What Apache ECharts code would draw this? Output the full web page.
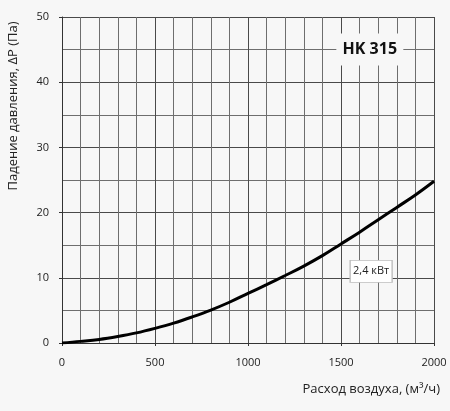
<!DOCTYPE html>
<html>
<head>
<meta charset="utf-8">
<script src="https://cdn.jsdelivr.net/npm/echarts@6/dist/echarts.min.js"></script>
<style>
  html, body { margin: 0; padding: 0; background: #f7f7f7; }
  #main { width: 450px; height: 411px; }
</style>
</head>
<body>
<div id="main"></div>
<script>
// airflow, m3/h
var flow = [0, 100, 200, 300, 400, 500, 600, 700, 800, 900, 1000,
            1100, 1200, 1300, 1400, 1500, 1600, 1700, 1800, 1900, 2000];
// pressure drop, Pa
var pressure = [0, 0.25, 0.55, 1.0, 1.55, 2.25, 3.05, 4.0, 5.05, 6.25, 7.6,
                8.95, 10.35, 11.8, 13.4, 15.2, 17.0, 18.9, 20.8, 22.7, 24.8];

var modelName = 'HK 315';
var powerLabel = '2,4 кВт';
var xTitle = 'Расход воздуха, (м³/ч)';
var yTitle = 'Падение давления, ΔP (Па)';

var font = '"Open Sans", "DejaVu Sans", sans-serif';

var points = [];
for (var i = 0; i < flow.length; i++) {
  points.push([flow[i], pressure[i]]);
}

var chart = echarts.init(document.getElementById('main'));

chart.setOption({
  backgroundColor: '#f7f7f7',
  animation: false,
  textStyle: { fontFamily: font },
  grid: { left: 62, right: 16, top: 17, bottom: 68 },
  xAxis: {
    type: 'value',
    min: 0, max: 2000, interval: 500,
    axisLine: { show: true, lineStyle: { color: '#333', width: 1 } },
    axisTick: { show: true, length: 3, lineStyle: { color: '#333' } },
    axisLabel: {
      color: '#222', fontSize: 11, margin: 14, fontFamily: font,
      formatter: function (v) { return String(v); }
    },
    splitLine: { show: true, lineStyle: { color: '#4a4a4a', width: 1 } },
    minorTick: { show: true, splitNumber: 5, length: 0 },
    minorSplitLine: { show: true, lineStyle: { color: '#6e6e6e', width: 1 } }
  },
  yAxis: {
    type: 'value',
    min: 0, max: 50, interval: 10,
    axisLine: { show: true, lineStyle: { color: '#333', width: 1 } },
    axisTick: { show: true, length: 3, lineStyle: { color: '#333' } },
    axisLabel: { color: '#222', fontSize: 11, margin: 13, fontFamily: font },
    splitLine: { show: true, lineStyle: { color: '#4a4a4a', width: 1 } },
    minorTick: { show: true, splitNumber: 2, length: 0 },
    minorSplitLine: { show: true, lineStyle: { color: '#6e6e6e', width: 1 } }
  },
  series: [{
    type: 'line',
    data: points,
    smooth: 0.4,
    showSymbol: false,
    lineStyle: { color: '#000', width: 3 },
    markPoint: {
      silent: true,
      data: [
        {
          coord: [1655, 45],
          symbol: 'rect',
          symbolSize: [67, 32],
          itemStyle: { color: '#f7f7f7' },
          label: {
            show: true, position: 'inside', formatter: modelName,
            color: '#111', fontSize: 16, fontWeight: 'bold', fontFamily: font
          }
        },
        {
          coord: [1662, 11],
          symbol: 'rect',
          symbolSize: [42, 22],
          itemStyle: { color: '#fff', borderColor: '#bdbdbd', borderWidth: 1 },
          label: {
            show: true, position: 'inside', formatter: powerLabel,
            color: '#222', fontSize: 11, fontFamily: font
          }
        }
      ]
    }
  }],
  graphic: [
    {
      type: 'text',
      right: 10, top: 383,
      style: { text: xTitle, fill: '#222', font: '13px ' + font }
    },
    {
      type: 'text',
      rotation: Math.PI / 2,
      x: 7, y: 106,
      style: {
        text: yTitle, fill: '#222', font: '13px ' + font,
        align: 'center', verticalAlign: 'top'
      }
    }
  ]
});
</script>
</body>
</html>
